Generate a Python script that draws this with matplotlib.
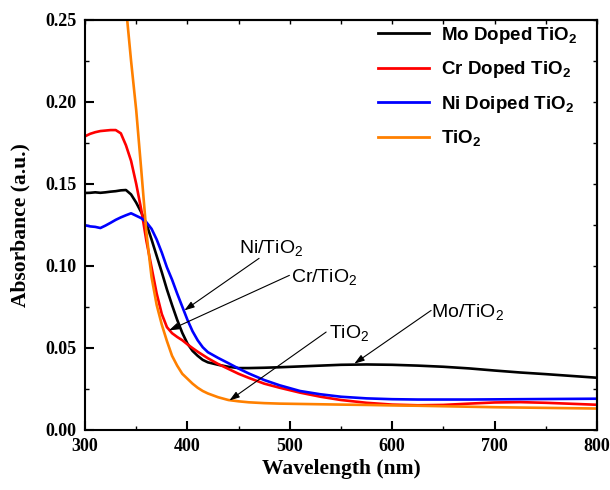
import numpy as np
import matplotlib
matplotlib.use("Agg")
import matplotlib.pyplot as plt
from matplotlib.ticker import MultipleLocator

plt.rcParams['mathtext.fontset'] = 'custom'
plt.rcParams['mathtext.rm'] = 'Liberation Sans'
plt.rcParams['mathtext.bf'] = 'Liberation Sans:bold'

wavelength = [300, 305, 310, 315, 320, 325, 330, 335, 340, 345, 350, 355, 360, 365, 370,
              375, 380, 385, 390, 395, 400, 405, 410, 415, 420, 430, 440, 450, 460, 475,
              490, 510, 530, 550, 575, 600, 625, 650, 675, 700, 725, 750, 775, 800]

mo_tio2 = [0.1444, 0.1445, 0.1448, 0.1445, 0.1448, 0.1452, 0.1455, 0.1460, 0.1462, 0.1435,
           0.1385, 0.1325, 0.1255, 0.1160, 0.1060, 0.0960, 0.0855, 0.0760, 0.0670, 0.0590,
           0.0525, 0.0480, 0.0450, 0.0425, 0.0410, 0.0395, 0.0383, 0.0375, 0.0375, 0.0377,
           0.0380, 0.0385, 0.0390, 0.0395, 0.0397, 0.0395, 0.0390, 0.0383, 0.0373, 0.0360,
           0.0348, 0.0338, 0.0327, 0.0316]

cr_tio2 = [0.1790, 0.1805, 0.1815, 0.1822, 0.1825, 0.1828, 0.1828, 0.1808, 0.1735, 0.1640,
           0.1500, 0.1340, 0.1150, 0.0990, 0.0830, 0.0705, 0.0625, 0.0588, 0.0565, 0.0545,
           0.0520, 0.0497, 0.0475, 0.0455, 0.0435, 0.0400, 0.0370, 0.0340, 0.0315, 0.0280,
           0.0255, 0.0225, 0.0200, 0.0180, 0.0163, 0.0152, 0.0148, 0.0150, 0.0158, 0.0165,
           0.0167, 0.0163, 0.0157, 0.0151]

ni_tio2 = [0.1247, 0.1240, 0.1237, 0.1230, 0.1245, 0.1262, 0.1280, 0.1295, 0.1308, 0.1320,
           0.1305, 0.1290, 0.1265, 0.1225, 0.1160, 0.1080, 0.0990, 0.0915, 0.0830, 0.0750,
           0.0670, 0.0600, 0.0545, 0.0502, 0.0472, 0.0437, 0.0405, 0.0372, 0.0342, 0.0302,
           0.0270, 0.0235, 0.0215, 0.0200, 0.0190, 0.0185, 0.0183, 0.0183, 0.0183, 0.0184,
           0.0185, 0.0186, 0.0187, 0.0188]

tio2 = [0.620, 0.560, 0.500, 0.450, 0.410, 0.370, 0.330, 0.295, 0.258, 0.225,
        0.195, 0.158, 0.120, 0.093, 0.076, 0.064, 0.054, 0.045, 0.039, 0.034,
        0.031, 0.028, 0.0255, 0.0235, 0.0220, 0.0197, 0.0180, 0.0172, 0.0166, 0.0161,
        0.0158, 0.0156, 0.0154, 0.0152, 0.0150, 0.0147, 0.0145, 0.0142, 0.0139, 0.0136,
        0.0134, 0.0132, 0.0130, 0.0128]

series_labels = [r'Mo Doped TiO$_\mathbf{2}$', r'Cr Doped TiO$_\mathbf{2}$',
                 r'Ni Doiped TiO$_\mathbf{2}$', r'TiO$_\mathbf{2}$']
series_colors = ['black', '#ff0000', '#0000ff', '#ff8000']

# annotations: text, text position (x, y), arrow start, arrow end
ann_texts = [r'Ni/TiO$_\mathrm{2}$', r'Cr/TiO$_\mathrm{2}$', r'TiO$_\mathrm{2}$', r'Mo/TiO$_\mathrm{2}$']
ann_text_xy = [(450.7, 0.1073), (501.6, 0.0894), (538.7, 0.0557), (638.2, 0.0680)]
ann_arrow_from = [(470, 0.1045), (499.6, 0.0941), (535.5, 0.0595), (638, 0.0727)]
ann_arrow_to = [(397, 0.0727), (382, 0.0605), (441, 0.0177), (563, 0.0402)]

fig = plt.figure(figsize=(6.1, 4.9), dpi=100)
ax = fig.add_axes([85/610, 1-429.5/490, (597-85)/610, (429.5-20)/490])

for vals, lab, col in zip([mo_tio2, cr_tio2, ni_tio2, tio2], series_labels, series_colors):
    ax.plot(wavelength, vals, color=col, lw=1.9, label=lab)

ax.set_xlim(300, 800)
ax.set_ylim(0, 0.25)

serif = 'Liberation Serif'
ax.xaxis.set_major_locator(MultipleLocator(100))
ax.xaxis.set_minor_locator(MultipleLocator(50))
ax.yaxis.set_major_locator(MultipleLocator(0.05))
ax.yaxis.set_minor_locator(MultipleLocator(0.025))
ax.set_yticks(np.arange(0, 0.2501, 0.05))
ax.set_yticklabels(['%.2f' % v for v in np.arange(0, 0.2501, 0.05)])
ax.tick_params(which='major', direction='in', length=6.5, width=1.5, pad=6)
ax.tick_params(which='minor', direction='in', length=3, width=1.0)
for lab in ax.get_xticklabels() + ax.get_yticklabels():
    lab.set_fontfamily(serif)
    lab.set_fontweight('bold')
    lab.set_fontsize(13)
for sp in ax.spines.values():
    sp.set_linewidth(1.5)

secx = ax.secondary_xaxis('top')
secx.set_xticks(np.arange(300, 801, 50))
secx.tick_params(direction='in', length=3, width=1.0, labeltop=False)
secx.spines['top'].set_linewidth(1.5)
secy = ax.secondary_yaxis('right')
secy.set_yticks(np.arange(0, 0.2501, 0.025))
secy.tick_params(direction='in', length=3, width=1.0, labelright=False)
secy.spines['right'].set_linewidth(1.5)

ax.set_xlabel('Wavelength (nm)', fontfamily=serif, fontweight='bold', fontsize=15.5, labelpad=3)
ax.set_ylabel('Absorbance (a.u.)', fontfamily=serif, fontweight='bold', fontsize=15.5, labelpad=11)

for t, txy, a0, a1 in zip(ann_texts, ann_text_xy, ann_arrow_from, ann_arrow_to):
    ax.text(txy[0], txy[1], t, fontfamily='Liberation Sans', fontsize=14, ha='left', va='baseline')
    ax.annotate('', xy=a1, xytext=a0,
                arrowprops=dict(arrowstyle='-|>,head_length=0.6,head_width=0.2',
                                color='black', lw=0.8, shrinkA=0, shrinkB=0))

leg = ax.legend(loc='upper left', bbox_to_anchor=(378/610, 1-25/490),
                bbox_transform=fig.transFigure, frameon=False,
                prop={'family': 'Liberation Sans', 'weight': 'bold', 'size': 13.5},
                handlelength=2.7, handletextpad=0.65, labelspacing=0.72,
                borderpad=0, borderaxespad=0)
for line in leg.get_lines():
    line.set_linewidth(2.0)

fig.savefig('out.png', dpi=100)
